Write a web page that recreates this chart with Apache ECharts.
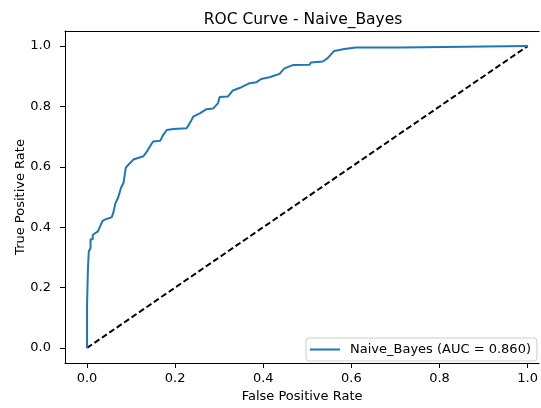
<!DOCTYPE html>
<html><head><meta charset="utf-8">
<script src="https://cdn.jsdelivr.net/npm/echarts@6/dist/echarts.min.js"></script>
<style>html,body{margin:0;padding:0;background:#fff}#c{width:541px;height:408px}</style>
</head><body><div id="c"></div>
<script>
const fpr = [0,0,0.002,0.002,0.004,0.004,0.008,0.008,0.013,0.013,0.017,0.017,0.024,0.029,0.035,0.04,0.056,0.06,0.064,0.068,0.071,0.077,0.083,0.088,0.094,0.105,0.128,0.136,0.143,0.150,0.166,0.173,0.181,0.196,0.226,0.233,0.241,0.256,0.271,0.286,0.297,0.301,0.320,0.331,0.346,0.369,0.384,0.395,0.414,0.437,0.448,0.467,0.505,0.508,0.535,0.546,0.561,0.584,0.610,0.712,0.716,1.0];
const tpr = [0,0.14,0.14,0.26,0.26,0.32,0.33,0.36,0.36,0.375,0.375,0.38,0.385,0.40,0.42,0.425,0.433,0.45,0.477,0.48,0.50,0.53,0.548,0.597,0.607,0.624,0.635,0.651,0.668,0.684,0.686,0.706,0.722,0.725,0.728,0.744,0.766,0.777,0.791,0.793,0.810,0.831,0.833,0.853,0.861,0.877,0.880,0.891,0.897,0.908,0.926,0.937,0.938,0.946,0.949,0.960,0.984,0.990,0.995,0.995,1.0,1.0];
const chanceX = [0,1];
const chanceY = [0,1];
const ticks = [0,0.2,0.4,0.6,0.8,1.0];
const titleText = 'ROC Curve - Naive_Bayes';
const seriesName = 'Naive_Bayes (AUC = 0.860)';

const font = 'DejaVu Sans';
const axisLineStyle = {color: '#000', width: 1};
const labelBase = {customValues: ticks, color: '#000', fontFamily: font, fontSize: 13, formatter: v => v.toFixed(1)};
const chart = echarts.init(document.getElementById('c'), null, {renderer: 'canvas'});
chart.setOption({
  animation: false,
  title: {text: titleText, left: 298, top: 7, textAlign: 'center',
    textStyle: {fontFamily: font, fontSize: 15.5, fontWeight: 'normal', color: '#000'}},
  grid: {left: 65, top: 31, right: 0, bottom: 40.4, show: false},
  xAxis: [
    {type: 'value', min: -0.05, max: 1.026, splitLine: {show: false},
      axisLine: {show: true, onZero: false, lineStyle: axisLineStyle},
      axisTick: {show: true, length: 5, customValues: ticks, lineStyle: axisLineStyle},
      axisLabel: Object.assign({}, labelBase, {margin: 9}),
      name: 'False Positive Rate', nameLocation: 'middle', nameGap: 27, nameMoveOverlap: false,
      nameTextStyle: {color: '#000', fontFamily: font, fontSize: 13}},
    {type: 'value', position: 'top', min: -0.05, max: 1.026, splitLine: {show: false},
      axisLine: {show: true, onZero: false, lineStyle: axisLineStyle},
      axisTick: {show: false}, axisLabel: {show: false}}
  ],
  yAxis: {type: 'value', min: -0.05, max: 1.05, splitLine: {show: false},
    axisLine: {show: true, onZero: false, lineStyle: axisLineStyle},
    axisTick: {show: true, length: 5, customValues: ticks, lineStyle: axisLineStyle},
    axisLabel: Object.assign({}, labelBase, {margin: 14}),
    name: 'True Positive Rate', nameLocation: 'middle', nameGap: 38, nameMoveOverlap: false,
    nameTextStyle: {color: '#000', fontFamily: font, fontSize: 13}},
  legend: {
    data: [seriesName], left: 306, top: 338,
    icon: 'rect', itemWidth: 30, itemHeight: 2,
    padding: [5, 6, 5, 4],
    backgroundColor: 'rgba(255,255,255,0.8)', borderColor: '#cccccc', borderWidth: 1, borderRadius: 3,
    textStyle: {fontFamily: font, fontSize: 13, color: '#000', padding: [0, 0, 0, 5]}
  },
  series: [
    {name: seriesName, type: 'line', xAxisIndex: 0, data: fpr.map((x, i) => [x, tpr[i]]),
      showSymbol: false, symbol: 'none', lineStyle: {color: '#1f77b4', width: 2}, itemStyle: {color: '#1f77b4'}, z: 3},
    {name: 'chance', type: 'line', xAxisIndex: 0, data: chanceX.map((x, i) => [x, chanceY[i]]),
      showSymbol: false, symbol: 'none', lineStyle: {color: '#000', width: 2, type: [6, 3]}, z: 2}
  ]
});
</script></body></html>
